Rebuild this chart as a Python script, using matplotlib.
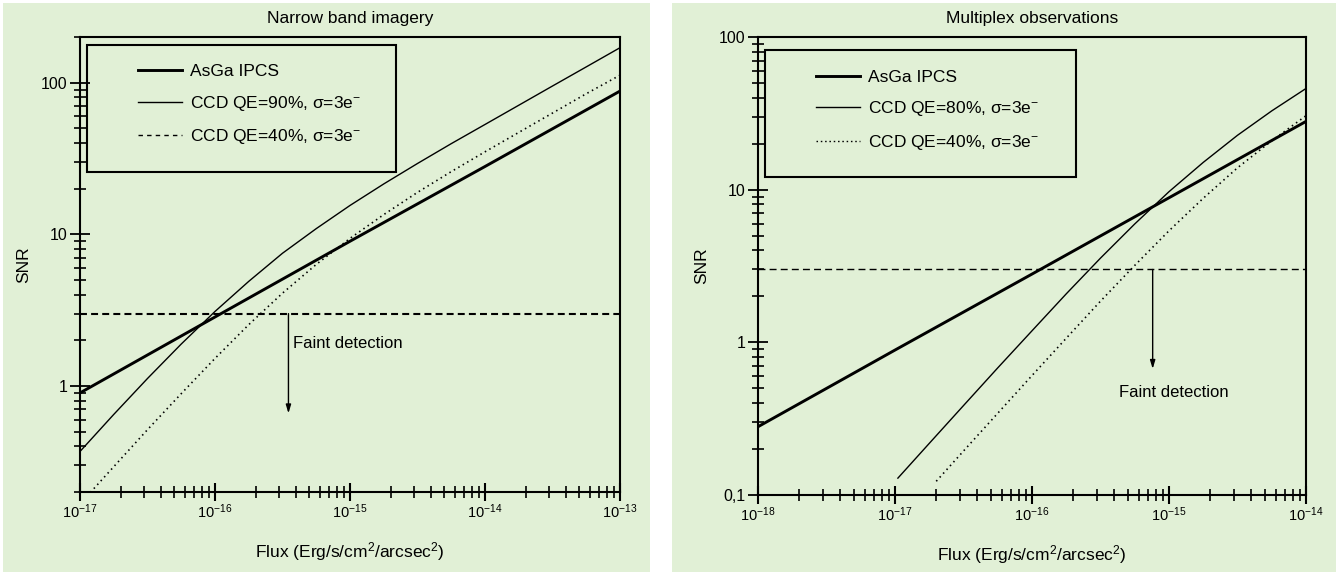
import matplotlib
matplotlib.use('Agg')
import matplotlib.pyplot as plt
from matplotlib.lines import Line2D
from matplotlib.patches import Rectangle
import matplotlib.ticker as mticker

# ---------------- data ----------------
# Left panel : Narrow band imagery
nb_flux_asga = [1e-17, 1e-16, 1e-15, 1e-14, 1e-13]
nb_snr_asga = [0.90, 2.85, 9.0, 28.0, 88.0]

nb_flux_ccd = [1e-17, 1.78e-17, 3.16e-17, 5.62e-17, 1e-16, 1.78e-16, 3.16e-16,
               5.62e-16, 1e-15, 1.78e-15, 3.16e-15, 5.62e-15, 1e-14, 1.78e-14,
               3.16e-14, 5.62e-14, 1e-13]
nb_snr_ccd90 = [0.37, 0.65, 1.12, 1.89, 3.10, 4.9, 7.5, 10.9, 15.5, 21.5, 29.3,
                39.6, 53.0, 71.0, 95.0, 127.0, 170.0]
nb_snr_ccd40 = [0.167, 0.294, 0.515, 0.89, 1.52, 2.54, 4.09, 6.33, 9.4, 13.5,
                18.9, 25.9, 35.0, 47.0, 63.0, 84.5, 112.0]

# Right panel : Multiplex observations
mx_flux_asga = [1e-18, 1e-17, 1e-16, 1e-15, 1e-14]
mx_snr_asga = [0.28, 0.89, 2.8, 8.85, 28.0]

mx_flux_ccd80 = [1.05e-17, 1.78e-17, 3.16e-17, 5.62e-17, 1e-16, 1.78e-16,
                 3.16e-16, 5.62e-16, 1e-15, 1.78e-15, 3.16e-15, 5.62e-15, 1e-14]
mx_snr_ccd80 = [0.129, 0.218, 0.385, 0.68, 1.19, 2.08, 3.56, 5.96, 9.7, 15.1,
                22.7, 32.8, 46.0]
mx_flux_ccd40 = [2e-17, 3.16e-17, 5.62e-17, 1e-16, 1.78e-16, 3.16e-16,
                 5.62e-16, 1e-15, 1.78e-15, 3.16e-15, 5.62e-15, 1e-14]
mx_snr_ccd40 = [0.123, 0.194, 0.343, 0.606, 1.065, 1.86, 3.19, 5.38, 8.79,
                13.9, 20.9, 30.5]

threshold = 3.0

panel_titles = ("Narrow band imagery", "Multiplex observations")
nb_labels = ["AsGa IPCS", "CCD QE=90%, σ=3e$^{-}$", "CCD QE=40%, σ=3e$^{-}$"]
mx_labels = ["AsGa IPCS", "CCD QE=80%, σ=3e$^{-}$", "CCD QE=40%, σ=3e$^{-}$"]
nb_xlim = (1e-17, 1e-13)
nb_ylim = (0.2, 200)
mx_xlim = (1e-18, 1e-14)
mx_ylim = (0.1, 100)
nb_xticks = [1e-17, 1e-16, 1e-15, 1e-14, 1e-13]
nb_xticklabels = ["$10^{-17}$", "$10^{-16}$", "$10^{-15}$", "$10^{-14}$", "$10^{-13}$"]
mx_xticks = [1e-18, 1e-17, 1e-16, 1e-15, 1e-14]
mx_xticklabels = ["$10^{-18}$", "$10^{-17}$", "$10^{-16}$", "$10^{-15}$", "$10^{-14}$"]
nb_yticks = [1, 10, 100]
nb_yticklabels = ["1", "10", "100"]
mx_yticks = [0.1, 1, 10, 100]
mx_yticklabels = ["0,1", "1", "10", "100"]

# annotation anchors (data coords)
nb_arrow_x, nb_arrow_y = 3.5e-16, 0.66
nb_text_x, nb_text_y = 3.8e-16, 1.9
mx_arrow_x, mx_arrow_y = 7.6e-16, 0.67
mx_text_x, mx_text_y = 4.3e-16, 0.47

# ---------------- style ----------------
plt.rcParams['font.family'] = ['Liberation Sans', 'DejaVu Sans']
plt.rcParams['mathtext.fontset'] = 'custom'
plt.rcParams['mathtext.rm'] = 'Liberation Sans'
plt.rcParams['mathtext.it'] = 'Liberation Sans:italic'
plt.rcParams['mathtext.bf'] = 'Liberation Sans:bold'
plt.rcParams['mathtext.default'] = 'regular'
plt.rcParams['lines.scale_dashes'] = False
plt.rcParams['axes.unicode_minus'] = True

BG = '#E1F0D6'
W, H = 1342, 575
fig = plt.figure(figsize=(W / 100, H / 100), dpi=100)
fig.patch.set_facecolor('white')
fig.add_artist(Rectangle((3 / W, 3 / H), (650 - 3) / W, (572 - 3) / H,
                         transform=fig.transFigure, facecolor=BG,
                         edgecolor='none', zorder=-10))
fig.add_artist(Rectangle((672 / W, 3 / H), (1336 - 672) / W, (572 - 3) / H,
                         transform=fig.transFigure, facecolor=BG,
                         edgecolor='none', zorder=-10))

axL = fig.add_axes([80 / W, (575 - 492) / H, 540 / W, 455 / H])
axR = fig.add_axes([758 / W, (575 - 495) / H, 548 / W, 458 / H])

LW_THICK = 2.1
LW_THIN = 1.0
DOT = (0, (1.1, 2.6))


def style_axes(ax, xlim, ylim, xticks, xticklabels, yticks, yticklabels, title):
    ax.set_facecolor('none')
    ax.set_xscale('log')
    ax.set_yscale('log')
    for sp in ax.spines.values():
        sp.set_linewidth(1.5)
    ax.set_xticks(xticks)
    ax.set_xticklabels(xticklabels)
    ax.xaxis.set_minor_locator(mticker.LogLocator(base=10, subs=range(2, 10), numticks=20))
    ax.xaxis.set_minor_formatter(mticker.NullFormatter())
    ax.set_yticks(yticks)
    ax.set_yticklabels(yticklabels)
    ax.yaxis.set_minor_locator(mticker.LogLocator(base=10, subs=range(2, 10), numticks=20))
    ax.yaxis.set_minor_formatter(mticker.NullFormatter())
    ax.set_xlim(*xlim)
    ax.set_ylim(*ylim)
    ax.tick_params(axis='x', which='major', direction='inout', length=13, width=1.5,
                   labelsize=10.5, pad=1, top=False)
    ax.tick_params(axis='x', which='minor', direction='inout', length=8, width=1.2, top=False)
    ax.tick_params(axis='y', which='major', direction='inout', length=14, width=1.3,
                   labelsize=11.5, pad=2, right=False)
    ax.tick_params(axis='y', which='minor', direction='inout', length=9, width=1.2, right=False)
    ax.set_title(title, fontsize=12.5, pad=10)
    ax.set_xlabel("Flux (Erg/s/cm$^{2}$/arcsec$^{2}$)", fontsize=12.5, labelpad=14)
    ax.set_ylabel("SNR", fontsize=12.5, labelpad=7)


# ---------------- left panel ----------------
style_axes(axL, nb_xlim, nb_ylim, nb_xticks, nb_xticklabels, nb_yticks,
           nb_yticklabels, panel_titles[0])
axL.plot(nb_flux_asga, nb_snr_asga, color='black', lw=LW_THICK)
axL.plot(nb_flux_ccd, nb_snr_ccd90, color='black', lw=LW_THIN)
axL.plot(nb_flux_ccd, nb_snr_ccd40, color='black', lw=1.2, linestyle=DOT)
axL.axhline(threshold, color='black', lw=1.5, linestyle=(0, (5, 3)))
axL.annotate('', xy=(nb_arrow_x, nb_arrow_y), xytext=(nb_arrow_x, threshold),
             arrowprops=dict(arrowstyle='-|>,head_length=0.5,head_width=0.15',
                             color='black', lw=1.0, shrinkA=0, shrinkB=0))
axL.text(nb_text_x, nb_text_y, "Faint detection", fontsize=12, va='center', ha='left')

axL.add_patch(Rectangle((0.013, 0.703), 0.573, 0.279, transform=axL.transAxes,
                        facecolor='none', edgecolor='black', lw=1.5, zorder=3))
hL = [Line2D([], [], color='black', lw=LW_THICK),
      Line2D([], [], color='black', lw=LW_THIN),
      Line2D([], [], color='black', lw=1.0, linestyle=(0, (3.2, 3.0)))]
axL.legend(hL, nb_labels, loc='upper left', bbox_to_anchor=(0.107, 0.940),
           frameon=False, fontsize=12.5, handlelength=2.55, handletextpad=0.45,
           labelspacing=0.82, borderpad=0, borderaxespad=0)

# ---------------- right panel ----------------
style_axes(axR, mx_xlim, mx_ylim, mx_xticks, mx_xticklabels, mx_yticks,
           mx_yticklabels, panel_titles[1])
axR.plot(mx_flux_asga, mx_snr_asga, color='black', lw=LW_THICK)
axR.plot(mx_flux_ccd80, mx_snr_ccd80, color='black', lw=LW_THIN)
axR.plot(mx_flux_ccd40, mx_snr_ccd40, color='black', lw=1.2, linestyle=DOT)
axR.axhline(threshold, color='black', lw=1.0, linestyle=(0, (5, 3)))
axR.annotate('', xy=(mx_arrow_x, mx_arrow_y), xytext=(mx_arrow_x, threshold),
             arrowprops=dict(arrowstyle='-|>,head_length=0.5,head_width=0.15',
                             color='black', lw=1.0, shrinkA=0, shrinkB=0))
axR.text(mx_text_x, mx_text_y, "Faint detection", fontsize=12, va='center', ha='left')

axR.add_patch(Rectangle((0.012, 0.695), 0.569, 0.277, transform=axR.transAxes,
                        facecolor='none', edgecolor='black', lw=1.5, zorder=3))
hR = [Line2D([], [], color='black', lw=LW_THICK),
      Line2D([], [], color='black', lw=LW_THIN),
      Line2D([], [], color='black', lw=1.0, linestyle=(0, (1.1, 2.0)))]
axR.legend(hR, mx_labels, loc='upper left', bbox_to_anchor=(0.105, 0.928),
           frameon=False, fontsize=12.5, handlelength=2.55, handletextpad=0.45,
           labelspacing=0.82, borderpad=0, borderaxespad=0)

fig.savefig('out.png', dpi=100, facecolor=fig.get_facecolor())
